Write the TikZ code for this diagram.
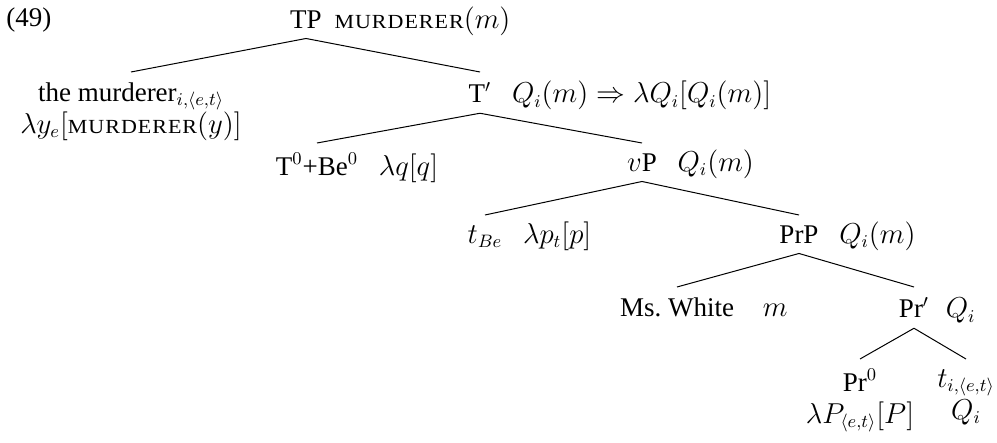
\documentclass[tikz,border=0pt]{standalone}
\usepackage{amsmath}
\usepackage{fontspec}
\setmainfont{Liberation Serif}
\usepackage{tikz}
\usetikzlibrary{positioning}
\newcommand{\smcap}[1]{{\fontsize{10}{12}\selectfont
  \addfontfeature{FakeStretch=1.1, LetterSpace=5}#1}}

\begin{document}
\begin{tikzpicture}[
    x=0.5pt, y=-0.5pt,
    font=\fontsize{13.5}{16}\selectfont,
    cat/.style={anchor=north, inner xsep=0pt, inner ysep=5pt, align=center},
    sem/.style={inner xsep=0pt, inner ysep=5pt},
    branch/.style={line width=0.5pt}
  ]
  \useasboundingbox (0,0) rectangle (997,443);
  \node[anchor=base west, inner sep=0pt] (ex) at (6,27) {(49)};

  % TP
  \node[cat] (tp) at (306,0) {TP};
  \node[sem, base right=6pt of tp] (tpsem) {\smcap{MURDERER}$(m)$};

  % subject and T'
  \node[cat] (dp) at (131,72) {the murderer$_{i,\langle e,t\rangle}$\\
    $\lambda y_e[\text{\smcap{MURDERER}}(y)]$};
  \node[cat] (tbar) at (480,72) {T$'$};
  \node[sem, base right=10pt of tbar] (tbarsem)
    {$Q_i(m) \Rightarrow \lambda Q_i[Q_i(m)]$};

  % T0 and vP
  \node[cat] (tnull) at (317,143) {T$^0$+Be$^0$};
  \node[sem, base right=10pt of tnull] (tnullsem) {$\lambda q[q]$};
  \node[cat] (vp) at (642,143) {$v$P};
  \node[sem, base right=10pt of vp] (vpsem) {$Q_i(m)$};

  % trace of Be and PrP
  \node[cat] (tbe) at (485,215) {$t_{Be}$};
  \node[sem, base right=10pt of tbe] (tbesem) {$\lambda p_t[p]$};
  \node[cat] (prp) at (799,215) {PrP};
  \node[sem, base right=10pt of prp] (prpsem) {$Q_i(m)$};

  % Ms. White and Pr'
  \node[cat] (white) at (677,287) {Ms.\ White};
  \node[sem, base right=14pt of white] (whitesem) {$m$};
  \node[cat] (prbar) at (914,287) {Pr$'$};
  \node[sem, base right=8pt of prbar] (prbarsem) {$Q_i$};

  % Pr0 and trace
  \node[cat] (prnull) at (860,359) {Pr$^0$\\ $\lambda P_{\langle e,t\rangle}[P]$};
  \node[cat] (tri) at (966,359) {$t_{i,\langle e,t\rangle}$\\ $Q_i$};

  \foreach \mother/\daughter in {tp/dp, tp/tbar, tbar/tnull, tbar/vp,
      vp/tbe, vp/prp, prp/white, prp/prbar, prbar/prnull, prbar/tri}
    \draw[branch] (\mother.south) -- (\daughter.north);
\end{tikzpicture}
\end{document}
